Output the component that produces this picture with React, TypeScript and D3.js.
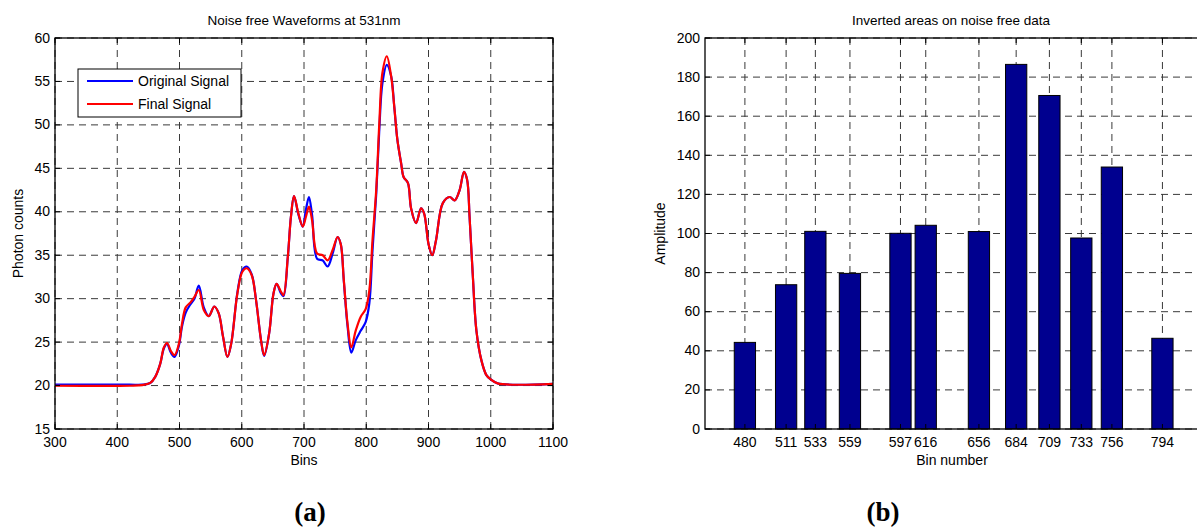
import React from "react";
import * as d3 from "d3";

// ---------- Data: panel (a) ----------
const BINS = [300, 420, 440, 453, 461, 469, 475, 480, 486, 492, 499, 504, 510, 518, 524, 531, 539, 547, 556, 563, 570, 577, 583, 593, 601, 608, 616, 623, 631, 636, 644, 651, 656, 663, 667, 674, 679, 684, 691, 698, 703, 708, 713, 721, 730, 738, 746, 754, 759, 764, 770, 776, 783, 791, 799, 805, 810, 816, 821, 826, 833, 840, 845, 850, 856, 860, 867, 872, 880, 888, 893, 900, 906, 912, 923, 934, 942, 950, 957, 962, 966, 971, 977, 985, 993, 1000, 1011, 1100];
const FINAL_SIGNAL = [19.98, 19.98, 20.05, 20.3, 21.0, 22.5, 24.4, 24.9, 24.0, 23.5, 24.8, 27.1, 29.0, 29.6, 30.2, 31.0, 28.7, 28.0, 29.1, 28.3, 25.6, 23.3, 24.8, 30.6, 33.1, 33.5, 32.7, 29.8, 25.2, 23.5, 26.0, 30.6, 31.7, 30.8, 30.4, 34.8, 39.4, 41.8, 39.8, 38.3, 39.4, 40.6, 39.0, 35.2, 35.0, 34.4, 35.6, 37.1, 36.3, 32.1, 27.1, 24.4, 26.3, 27.9, 28.8, 31.0, 36.7, 42.5, 50.2, 56.0, 57.9, 55.6, 52.1, 48.3, 45.6, 44.0, 43.3, 40.4, 38.7, 40.4, 39.8, 36.3, 35.0, 36.7, 41.0, 41.7, 41.3, 42.5, 44.6, 43.7, 39.4, 32.9, 26.3, 22.9, 21.2, 20.7, 20.25, 20.2];
const ORIGINAL_SIGNAL = [20.1, 20.1, 20.1, 20.3, 21.0, 22.5, 24.3, 24.8, 23.8, 23.3, 24.6, 26.8, 28.4, 29.4, 30.0, 31.5, 29.0, 28.0, 29.1, 28.3, 25.6, 23.3, 24.8, 30.7, 33.3, 33.7, 32.8, 29.8, 25.2, 23.4, 26.0, 30.6, 31.7, 30.6, 30.3, 34.8, 39.4, 41.8, 39.7, 38.3, 40.2, 41.7, 39.6, 34.6, 34.4, 33.7, 35.2, 37.1, 36.3, 32.0, 26.8, 23.8, 25.2, 26.3, 27.3, 29.5, 35.5, 42.0, 49.5, 54.8, 56.9, 55.6, 52.1, 48.3, 45.6, 44.0, 43.3, 40.4, 38.7, 40.4, 39.8, 36.3, 35.0, 36.7, 41.0, 41.7, 41.3, 42.5, 44.6, 43.7, 39.4, 32.9, 26.3, 22.9, 21.2, 20.7, 20.25, 20.2];
const A_X_TICKS = [300, 400, 500, 600, 700, 800, 900, 1000, 1100];
const A_Y_TICKS = [15, 20, 25, 30, 35, 40, 45, 50, 55, 60];
const LEGEND_LABELS = ["Original Signal", "Final Signal"];

// ---------- Data: panel (b) ----------
const BAR_BINS = [480, 511, 533, 559, 597, 616, 656, 684, 709, 733, 756, 794];
const BAR_AMPLITUDES = [44.3, 73.8, 101.1, 79.6, 100.1, 104.2, 101.0, 186.5, 170.6, 97.7, 134.0, 46.4];
const B_Y_TICKS = [0, 20, 40, 60, 80, 100, 120, 140, 160, 180, 200];

const FONT = "'Liberation Sans', Arial, Helvetica, sans-serif";
const GRID = "#3a3a3a";
const DASH = "7,5";

export default function App() {
  const W = 1197, H = 527;
  // panel (a) layout
  const aL = 55, aR = 553, top = 38, bottom = 429;
  const xA = d3.scaleLinear().domain([300, 1100]).range([aL, aR]);
  const yA = d3.scaleLinear().domain([15, 60]).range([bottom, top]);
  const line = d3
    .line<number>()
    .x((_, i) => xA(BINS[i]))
    .y((d) => yA(d))
    .curve(d3.curveCatmullRom.alpha(0.5));

  // panel (b) layout
  const bL = 705, bR = 1197;
  const xB = d3.scaleLinear().domain([450, 820]).range([bL, bR]);
  const yB = d3.scaleLinear().domain([0, 200]).range([bottom, top]);
  const barW = xB(466) - xB(450);
  const tick = 5;

  return (
    <svg
      width={W}
      height={H}
      style={{ position: "absolute", left: 0, top: 0, background: "#fff" }}
      fontFamily={FONT}
    >
      <rect x={0} y={0} width={W} height={H} fill="#fff" />
      {/* ===== Panel (a) ===== */}
      <g>
        {A_X_TICKS.map((t) => (
          <line key={"gx" + t} x1={xA(t)} x2={xA(t)} y1={top} y2={bottom} stroke={GRID} strokeWidth={1} strokeDasharray={DASH} />
        ))}
        {A_Y_TICKS.map((t) => (
          <line key={"gy" + t} x1={aL} x2={aR} y1={yA(t)} y2={yA(t)} stroke={GRID} strokeWidth={1} strokeDasharray={DASH} />
        ))}
        <path d={line(ORIGINAL_SIGNAL) || ""} fill="none" stroke="#0000ff" strokeWidth={2.2} strokeLinejoin="round" />
        <path d={line(FINAL_SIGNAL) || ""} fill="none" stroke="#ff0000" strokeWidth={2.2} strokeLinejoin="round" />
        <rect x={aL} y={top} width={aR - aL} height={bottom - top} fill="none" stroke="#000" strokeWidth={1.3} />
        {A_X_TICKS.map((t) => (
          <g key={"tx" + t}>
            <line x1={xA(t)} x2={xA(t)} y1={bottom} y2={bottom - tick} stroke="#000" />
            <line x1={xA(t)} x2={xA(t)} y1={top} y2={top + tick} stroke="#000" />
            <text x={xA(t)} y={447} fontSize={14} textAnchor="middle" fill="#000">{t}</text>
          </g>
        ))}
        {A_Y_TICKS.map((t) => (
          <g key={"ty" + t}>
            <line x1={aL} x2={aL + tick} y1={yA(t)} y2={yA(t)} stroke="#000" />
            <line x1={aR} x2={aR - tick} y1={yA(t)} y2={yA(t)} stroke="#000" />
            <text x={50} y={yA(t) + 4.5} fontSize={14} textAnchor="end" fill="#000">{t}</text>
          </g>
        ))}
        <text x={(aL + aR) / 2} y={25} fontSize={13.5} textAnchor="middle">Noise free Waveforms at 531nm</text>
        <text x={(aL + aR) / 2} y={465} fontSize={14} textAnchor="middle">Bins</text>
        <text transform={`translate(23,${(top + bottom) / 2}) rotate(-90)`} fontSize={14} textAnchor="middle">Photon counts</text>
        {/* legend */}
        <rect x={78} y={69} width={163} height={48} fill="#fff" stroke="#000" strokeWidth={1} />
        {LEGEND_LABELS.map((lab, i) => (
          <g key={lab}>
            <line x1={87} x2={133} y1={81 + i * 23} y2={81 + i * 23} stroke={i === 0 ? "#0000ff" : "#ff0000"} strokeWidth={2.2} />
            <text x={138} y={86 + i * 23} fontSize={14}>{lab}</text>
          </g>
        ))}
      </g>

      {/* ===== Panel (b) ===== */}
      <g>
        {BAR_BINS.map((t) => (
          <line key={"bgx" + t} x1={xB(t)} x2={xB(t)} y1={top} y2={bottom} stroke={GRID} strokeWidth={1} strokeDasharray={DASH} />
        ))}
        {B_Y_TICKS.map((t) => (
          <line key={"bgy" + t} x1={bL} x2={bR} y1={yB(t)} y2={yB(t)} stroke={GRID} strokeWidth={1} strokeDasharray={DASH} />
        ))}
        {BAR_BINS.map((b, i) => (
          <rect
            key={"bar" + b}
            x={xB(b) - barW / 2}
            y={yB(BAR_AMPLITUDES[i])}
            width={barW}
            height={yB(0) - yB(BAR_AMPLITUDES[i])}
            fill="#00008f"
            stroke="#000"
            strokeWidth={1}
          />
        ))}
        <rect x={bL} y={top} width={bR - bL + 10} height={bottom - top} fill="none" stroke="#000" strokeWidth={1.3} />
        {BAR_BINS.map((t) => (
          <g key={"btx" + t}>
            <line x1={xB(t)} x2={xB(t)} y1={bottom} y2={bottom - tick} stroke="#000" />
            <line x1={xB(t)} x2={xB(t)} y1={top} y2={top + tick} stroke="#000" />
            <text x={xB(t)} y={447} fontSize={14} textAnchor="middle">{t}</text>
          </g>
        ))}
        {B_Y_TICKS.map((t) => (
          <g key={"bty" + t}>
            <line x1={bL} x2={bL + tick} y1={yB(t)} y2={yB(t)} stroke="#000" />
            <text x={700} y={yB(t) + 4.5} fontSize={14} textAnchor="end">{t}</text>
          </g>
        ))}
        <text x={951} y={25} fontSize={13.5} textAnchor="middle">Inverted areas on noise free data</text>
        <text x={952} y={465} fontSize={14} textAnchor="middle">Bin number</text>
        <text transform={`translate(665,${(top + bottom) / 2}) rotate(-90)`} fontSize={14} textAnchor="middle">Amplitude</text>
      </g>

      <text x={310} y={521} fontSize={27} fontWeight="bold" fontFamily="'Liberation Serif', 'Times New Roman', serif" textAnchor="middle">(a)</text>
      <text x={883} y={521} fontSize={27} fontWeight="bold" fontFamily="'Liberation Serif', 'Times New Roman', serif" textAnchor="middle">(b)</text>
    </svg>
  );
}
